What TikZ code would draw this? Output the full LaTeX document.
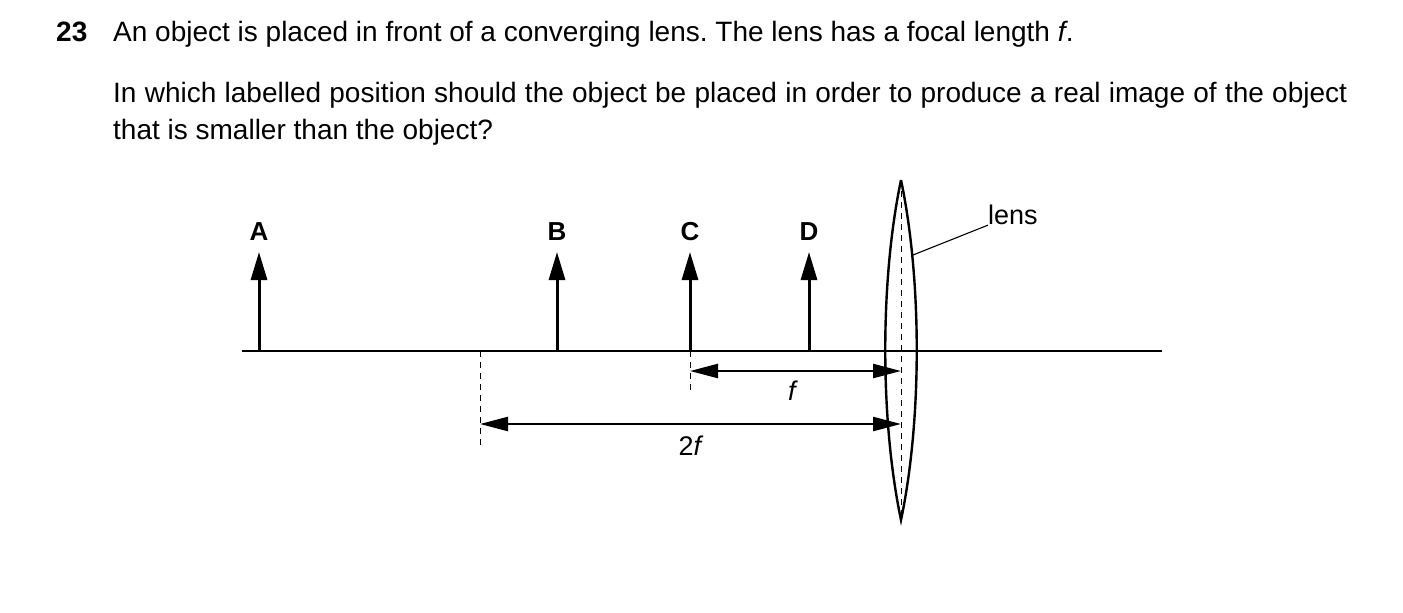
\documentclass[tikz,border=0pt]{standalone}
\usepackage{fontspec}
\setmainfont{Liberation Sans}
\usetikzlibrary{arrows.meta}
\begin{document}
\begin{tikzpicture}[x=1pt,y=-1pt,
  txt/.style={inner sep=0,font=\fontsize{28}{37}\selectfont},
  lbl/.style={inner sep=0,font=\fontsize{26}{30}\selectfont\bfseries},
  obj/.style={line width=3pt,-{Triangle[length=28pt,width=16pt]}},
  dim/.style={line width=2.4pt,{Triangle[length=28pt,width=14pt]}-{Triangle[length=28pt,width=14pt]}},
  dsh/.style={line width=0.9pt,dash pattern=on 6pt off 5pt}]
\useasboundingbox (0,0) rectangle (1403,613);
\node[lbl,anchor=base west,font=\fontsize{28}{30}\selectfont\bfseries] (n) at (56,41) {23};
\node[txt,anchor=base west] (q1) at (113,41) {\frenchspacing An object is placed in front of a converging lens. The lens has a focal length \textit{f}.};
\node[txt,anchor=base west,text width=1234pt,align=justify] (q2) at (113,102) {In which labelled position should the object be placed in order to produce a real image of the object that is smaller than the object?};
% axis
\coordinate (axL) at (242,351); \coordinate (axR) at (1162,351);
\draw[line width=2.4pt] (axL) -- (axR);
% lens
\coordinate (lt) at (901,180); \coordinate (lb) at (901,520);
\draw[line width=2.4pt] (lt) .. controls (880,280) and (880,420) .. (lb)
  .. controls (922,420) and (922,280) .. (lt);
\draw[dsh] (lt) -- (lb);
% objects
\foreach \n/\x in {A/259,B/557,C/690,D/809}{
  \coordinate (b\n) at (\x,351); \coordinate (t\n) at (\x,252);
  \draw[obj] (b\n) -- (t\n);
  \node[lbl] (l\n) at (\x,232) {\n};
}
% dashed guides
\coordinate (g2) at (480,351); \coordinate (g2b) at (480,445);
\draw[dsh] (g2) -- (g2b);
\coordinate (gCb) at (690,392);
\draw[dsh] (bC) -- (gCb);
% dimensions
\coordinate (f1) at (690,371); \coordinate (f2) at (901,371);
\draw[dim] (f1) -- (f2);
\node[txt,font=\fontsize{27}{30}\selectfont] (fl) at (793,391) {\textit{f}};
\coordinate (d1) at (480,424); \coordinate (d2) at (901,424);
\draw[dim] (d1) -- (d2);
\node[txt,font=\fontsize{27}{30}\selectfont] (dl) at (691,446) {2\textit{f}};
% lens label
\node[txt,anchor=west,font=\fontsize{27}{30}\selectfont] (ll) at (988,215) {lens};
\coordinate (lp) at (913,255);
\draw[line width=1.1pt] (lp) -- (ll.south west);
\end{tikzpicture}
\end{document}
